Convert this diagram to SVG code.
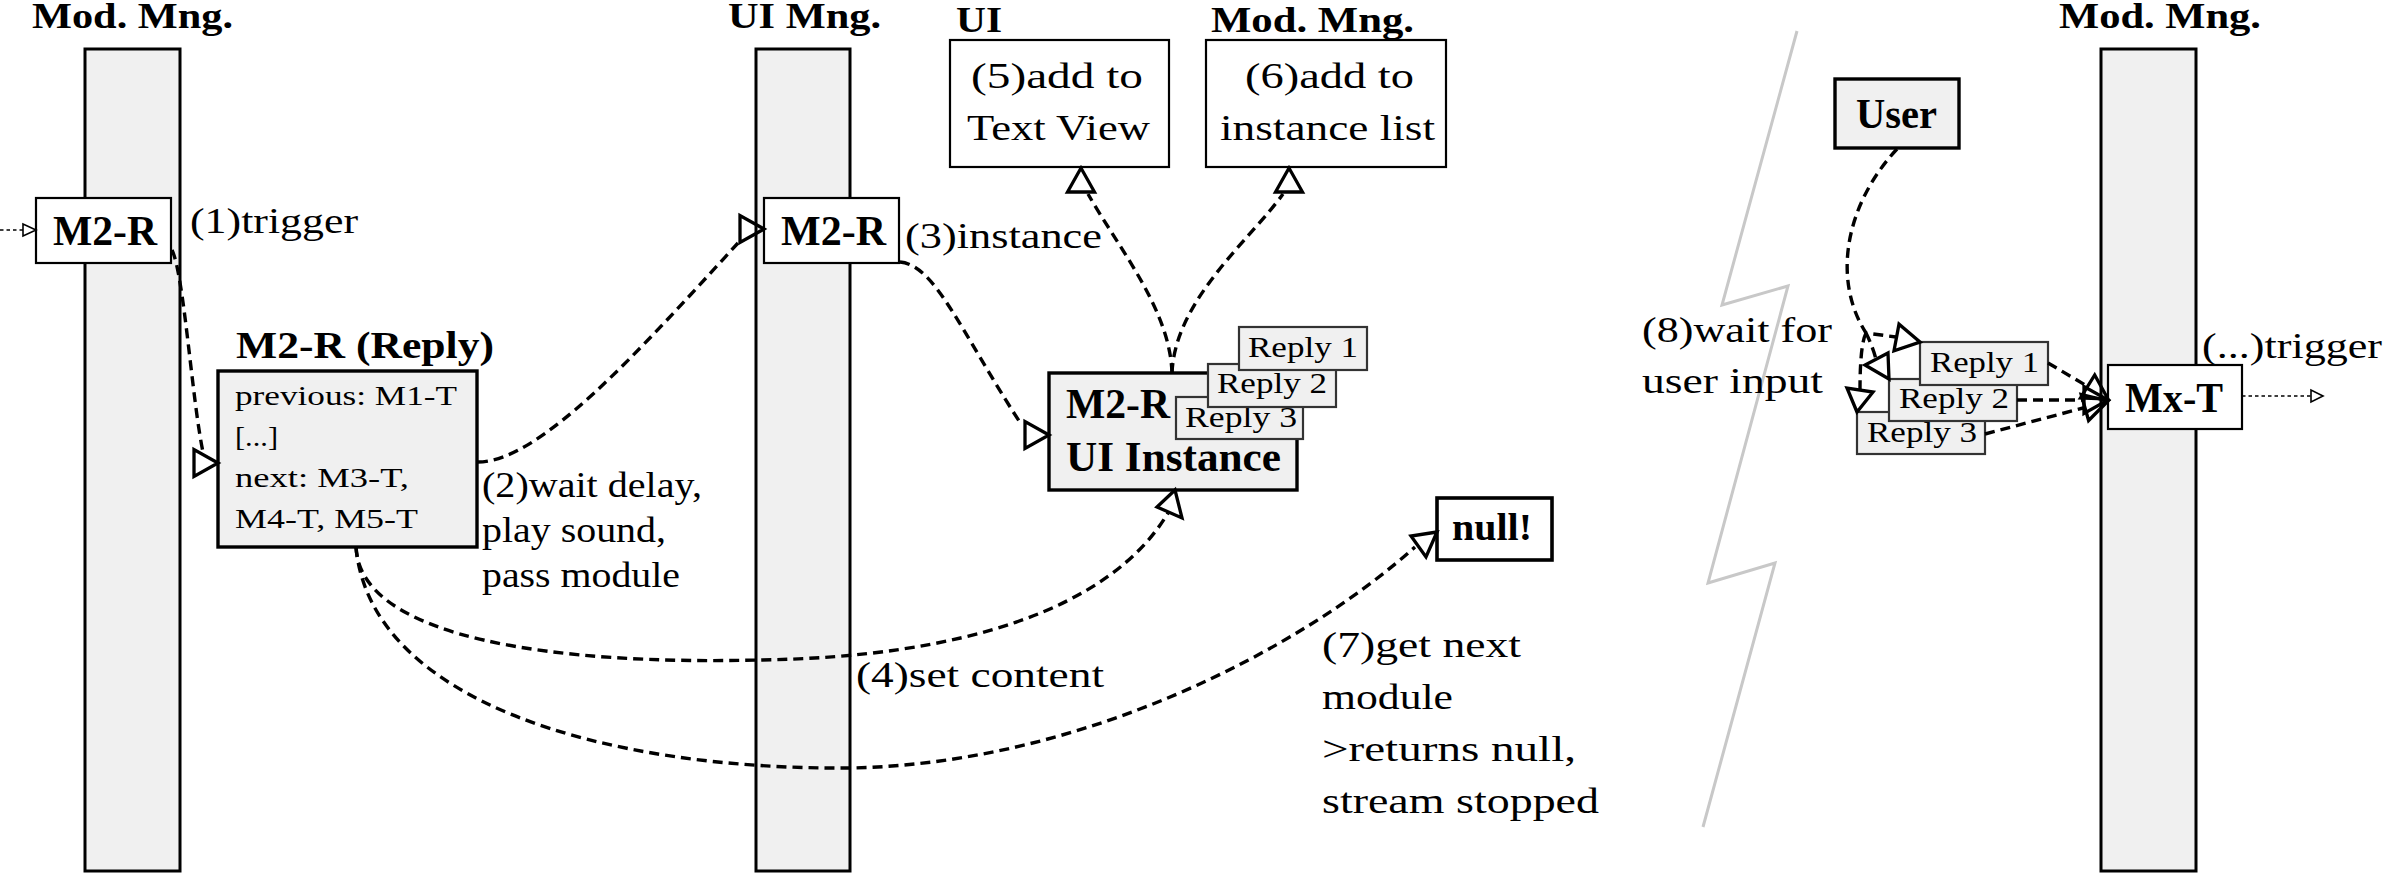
<svg xmlns="http://www.w3.org/2000/svg" width="2386" height="873" viewBox="0 0 2386 873">
<style>
text{font-family:"Liberation Serif","Times New Roman",serif;fill:#000}
.hdr{font-weight:bold;font-size:35px}
.nb{font-weight:bold;font-size:42px}
.tb{font-weight:bold;font-size:38px}
.lbl{font-size:36px}
.sm{font-size:28px}
.rp{font-size:29px}
.life{fill:#f0f0f0;stroke:#000;stroke-width:3}
.box{fill:#fff;stroke:#000;stroke-width:2.2}
.gbox{fill:#f0f0f0;stroke:#000;stroke-width:3.4}
.wbox{fill:#fff;stroke:#000;stroke-width:3.6}
.rbox{fill:#f0f0f0;stroke:#333;stroke-width:2.2}
.dash{fill:none;stroke:#000;stroke-width:3.4;stroke-dasharray:10 6}
.dot{fill:none;stroke:#000;stroke-width:1.7;stroke-dasharray:3.5 3}
.ah{fill:none;stroke:#000;stroke-width:3.3;stroke-linejoin:miter}
.ahs{fill:#fff;stroke:#000;stroke-width:1.6}
.bolt{fill:none;stroke:#c8c8c8;stroke-width:3}
</style>

<polyline class="bolt" points="1797,31 1722,305 1788,286 1708,583 1775,563 1703,827"/>

<g id="lifeline-modmng-left">
<rect class="life" x="85" y="49" width="95" height="822"/>
<text class="hdr" x="32" y="28" textLength="201" lengthAdjust="spacingAndGlyphs">Mod. Mng.</text>
</g>
<g id="lifeline-uimng">
<rect class="life" x="756" y="49" width="94" height="822"/>
<text class="hdr" x="728" y="28" textLength="153" lengthAdjust="spacingAndGlyphs">UI Mng.</text>
</g>
<g id="lifeline-modmng-right">
<rect class="life" x="2101" y="49" width="95" height="822"/>
<text class="hdr" x="2059" y="28" textLength="202" lengthAdjust="spacingAndGlyphs">Mod. Mng.</text>
</g>

<g id="node-m2r-mod">
<rect class="box" x="36" y="198" width="135" height="65"/>
<text class="nb" x="53" y="245" textLength="104" lengthAdjust="spacingAndGlyphs">M2-R</text>
</g>

<g id="node-m2r-reply">
<text class="tb" x="236" y="358" textLength="258" lengthAdjust="spacingAndGlyphs">M2-R (Reply)</text>
<rect class="gbox" x="218" y="371" width="259" height="176"/>
<text class="sm" x="235" y="405" textLength="222" lengthAdjust="spacingAndGlyphs">previous: M1-T</text>
<text class="sm" x="235" y="446" textLength="43" lengthAdjust="spacingAndGlyphs">[...]</text>
<text class="sm" x="235" y="487" textLength="174" lengthAdjust="spacingAndGlyphs">next: M3-T,</text>
<text class="sm" x="235" y="528" textLength="183" lengthAdjust="spacingAndGlyphs">M4-T, M5-T</text>
</g>

<g id="node-m2r-ui">
<rect class="box" x="764" y="198" width="135" height="65"/>
<text class="nb" x="781" y="245" textLength="105" lengthAdjust="spacingAndGlyphs">M2-R</text>
</g>

<g id="node-ui-textview">
<text class="hdr" x="956" y="32" textLength="46" lengthAdjust="spacingAndGlyphs">UI</text>
<rect class="box" x="950" y="40" width="219" height="127"/>
<text class="lbl" x="971" y="88" textLength="172" lengthAdjust="spacingAndGlyphs">(5)add to</text>
<text class="lbl" x="967" y="140" textLength="183" lengthAdjust="spacingAndGlyphs">Text View</text>
</g>

<g id="node-mod-instancelist">
<text class="hdr" x="1211" y="32" textLength="203" lengthAdjust="spacingAndGlyphs">Mod. Mng.</text>
<rect class="box" x="1206" y="40" width="240" height="127"/>
<text class="lbl" x="1245" y="88" textLength="169" lengthAdjust="spacingAndGlyphs">(6)add to</text>
<text class="lbl" x="1220" y="140" textLength="215" lengthAdjust="spacingAndGlyphs">instance list</text>
</g>

<g id="node-ui-instance">
<rect class="gbox" x="1049" y="373" width="248" height="117"/>
<text class="nb" x="1066" y="418" textLength="104" lengthAdjust="spacingAndGlyphs">M2-R</text>
<text class="nb" x="1066" y="471" textLength="215" lengthAdjust="spacingAndGlyphs">UI Instance</text>
</g>
<g id="node-ui-reply3">
<rect class="rbox" x="1176" y="397" width="127" height="42"/>
<text class="rp" x="1185" y="427" textLength="112" lengthAdjust="spacingAndGlyphs">Reply 3</text>
</g>
<g id="node-ui-reply2">
<rect class="rbox" x="1208" y="364" width="128" height="43"/>
<text class="rp" x="1217" y="393" textLength="110" lengthAdjust="spacingAndGlyphs">Reply 2</text>
</g>
<g id="node-ui-reply1">
<rect class="rbox" x="1239" y="327" width="128" height="43"/>
<text class="rp" x="1248" y="357" textLength="110" lengthAdjust="spacingAndGlyphs">Reply 1</text>
</g>

<g id="node-null">
<rect class="wbox" x="1437" y="498" width="115" height="62"/>
<text class="tb" x="1452" y="540" textLength="80" lengthAdjust="spacingAndGlyphs">null!</text>
</g>

<g id="node-user">
<rect class="gbox" x="1835" y="79" width="124" height="69"/>
<text class="nb" x="1856" y="128" textLength="81" lengthAdjust="spacingAndGlyphs">User</text>
</g>

<g id="node-reply3">
<rect class="rbox" x="1857" y="412" width="128" height="42"/>
<text class="rp" x="1867" y="442" textLength="110" lengthAdjust="spacingAndGlyphs">Reply 3</text>
</g>
<g id="node-reply2">
<rect class="rbox" x="1889" y="379" width="128" height="42"/>
<text class="rp" x="1899" y="408" textLength="110" lengthAdjust="spacingAndGlyphs">Reply 2</text>
</g>
<g id="node-reply1">
<rect class="rbox" x="1920" y="342" width="128" height="43"/>
<text class="rp" x="1930" y="372" textLength="109" lengthAdjust="spacingAndGlyphs">Reply 1</text>
</g>

<g id="node-mxt">
<rect class="box" x="2108" y="365" width="134" height="64"/>
<text class="nb" x="2125" y="412" textLength="98" lengthAdjust="spacingAndGlyphs">Mx-T</text>
</g>

<g id="connectors">
<path class="dot" d="M0,230 L23,230"/>
<polygon class="ahs" points="36,230 23,224 23,236"/>

<path class="dash" d="M172,250 C184,275 192,400 203,452"/>
<polygon class="ah" points="218,463 194,449.5 194,476.5"/>

<path class="dash" d="M478,462 C540,462 640,350 738,243"/>
<polygon class="ah" points="764,229 740,215.5 740,242.5"/>

<path class="dash" d="M900,262 C935,265 960,330 1021,424"/>
<polygon class="ah" points="1049,435 1025,421.5 1025,448.5"/>

<path class="dash" d="M1172,373 C1170,310 1120,250 1088,194"/>
<polygon class="ah" points="1081,168 1067.5,192 1094.5,192"/>

<path class="dash" d="M1172,373 C1175,300 1250,240 1283,194"/>
<polygon class="ah" points="1289,168 1275.5,192 1302.5,192"/>

<path class="dash" d="M356,547 C360,640 560,665 760,660 C960,657 1110,610 1168,513"/>
<polygon class="ah" points="1175,490 1157,507 1182,518"/>

<path class="dash" d="M356,547 C370,700 600,770 850,768 C1080,764 1300,650 1415,547"/>
<polygon class="ah" points="1437,532 1411,536 1426,557"/>

<path class="dash" d="M1897,149 C1845,205 1832,280 1866,333 L1896,337"/>
<path class="dash" d="M1866,333 Q1872,345 1876,359"/>
<path class="dash" d="M1866,333 Q1860,345 1860,390"/>
<polygon class="ah" points="1920,342 1899,324.2 1894,350.8"/>
<polygon class="ah" points="1889,379 1865,365 1888,353"/>
<polygon class="ah" points="1857,412 1847,388 1873,392"/>

<path class="dash" d="M2048,363 L2087.6,386.4"/>
<polygon class="ah" points="2108,399 2094.7,374.9 2080.5,397.9"/>
<path class="dash" d="M2017,400 L2084,400"/>
<polygon class="ah" points="2108,400 2084,386.5 2084,413.5"/>
<path class="dash" d="M1985,434 L2084.9,407.5"/>
<polygon class="ah" points="2108,401 2088.6,420.5 2081.2,394.5"/>

<path class="dot" d="M2242,396 L2311,396"/>
<polygon class="ahs" points="2323,396 2311,390 2311,402"/>
</g>

<g id="labels">
<text class="lbl" x="190" y="233" textLength="168" lengthAdjust="spacingAndGlyphs">(1)trigger</text>
<text class="lbl" x="482" y="497" textLength="220" lengthAdjust="spacingAndGlyphs">(2)wait delay,</text>
<text class="lbl" x="482" y="542" textLength="184" lengthAdjust="spacingAndGlyphs">play sound,</text>
<text class="lbl" x="482" y="587" textLength="198" lengthAdjust="spacingAndGlyphs">pass module</text>
<text class="lbl" x="905" y="248" textLength="197" lengthAdjust="spacingAndGlyphs">(3)instance</text>
<text class="lbl" x="856" y="687" textLength="248" lengthAdjust="spacingAndGlyphs">(4)set content</text>
<text class="lbl" x="1322" y="657" textLength="199" lengthAdjust="spacingAndGlyphs">(7)get next</text>
<text class="lbl" x="1322" y="709" textLength="131" lengthAdjust="spacingAndGlyphs">module</text>
<text class="lbl" x="1322" y="761" textLength="254" lengthAdjust="spacingAndGlyphs">&gt;returns null,</text>
<text class="lbl" x="1322" y="813" textLength="277" lengthAdjust="spacingAndGlyphs">stream stopped</text>
<text class="lbl" x="1642" y="342" textLength="190" lengthAdjust="spacingAndGlyphs">(8)wait for</text>
<text class="lbl" x="1642" y="393" textLength="181" lengthAdjust="spacingAndGlyphs">user input</text>
<text class="lbl" x="2202" y="358" textLength="180" lengthAdjust="spacingAndGlyphs">(...)trigger</text>
</g>
</svg>
